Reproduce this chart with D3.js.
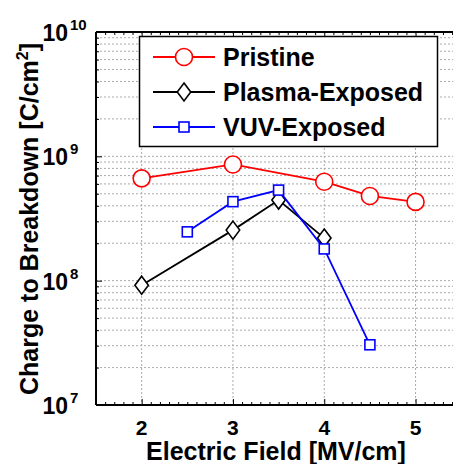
<!DOCTYPE html>
<html>
<head>
<meta charset="utf-8">
<script src="https://cdn.jsdelivr.net/npm/d3@7"></script>
<style>
  body { margin: 0; background: #fff; }
  svg { display: block; font-family: Arial, "Liberation Sans", sans-serif; font-weight: bold; }
</style>
</head>
<body>
<svg id="chart" width="453" height="464"></svg>
<script>
// Data
const pristineX = [2, 3, 4, 4.5, 5];
const pristineY = [6.65e8, 8.6e8, 6.25e8, 4.8e8, 4.3e8];
const plasmaX = [2, 3, 3.5, 4];
const plasmaY = [9.2e7, 2.55e8, 4.45e8, 2.2e8];
const vuvX = [2.5, 3, 3.5, 4, 4.5];
const vuvY = [2.47e8, 4.32e8, 5.35e8, 1.8e8, 3.05e7];
const xTicks = [2, 3, 4, 5];
const yExps = [7, 8, 9, 10];
const seriesNames = ['Pristine', 'Plasma-Exposed', 'VUV-Exposed'];

const svg = d3.select('#chart');
const margin = { left: 96, top: 32, bottom: 405 };

const x = d3.scaleLinear().domain([1.5, 5.5]).range([margin.left, margin.left + 4 * 91.3]);
const y = d3.scaleLog().domain([1e7, 1e10]).range([margin.bottom, margin.top]);

// minor values for log grid
const minorY = [];
[1e7, 1e8, 1e9].forEach(d => {
  for (let k = 2; k <= 9; k++) minorY.push(d * k);
});

// Gridlines
const grid = svg.append('g').attr('class', 'grid');
grid.selectAll('line.gy')
  .data(minorY.concat([1e8, 1e9]))
  .enter()
  .append('line')
  .attr('x1', margin.left)
  .attr('x2', 453)
  .attr('y1', d => y(d))
  .attr('y2', d => y(d))
  .attr('stroke', '#aaa')
  .attr('stroke-width', 1)
  .attr('stroke-dasharray', '2,2');
grid.selectAll('line.gx')
  .data(xTicks)
  .enter()
  .append('line')
  .attr('x1', d => x(d))
  .attr('x2', d => x(d))
  .attr('y1', margin.top)
  .attr('y2', margin.bottom)
  .attr('stroke', '#aaa')
  .attr('stroke-width', 1)
  .attr('stroke-dasharray', '2,2');

// Axes with inward ticks
const xMinor = d3.range(1.6, 5.5, 0.1).filter(d => Math.abs(d - Math.round(d)) > 0.01);
svg.append('g')
  .attr('transform', `translate(0,${margin.bottom})`)
  .call(d3.axisBottom(x).tickValues(xMinor).tickSize(-3).tickFormat(''))
  .call(g => g.select('.domain').remove());
svg.append('g')
  .attr('transform', `translate(0,${margin.bottom})`)
  .call(d3.axisBottom(x).tickValues(xTicks).tickSize(-6).tickFormat(''))
  .call(g => g.select('.domain').remove());
svg.append('g')
  .attr('transform', `translate(0,${margin.top})`)
  .call(d3.axisTop(x).tickValues(xMinor).tickSize(-3).tickFormat(''))
  .call(g => g.select('.domain').remove());
svg.append('g')
  .attr('transform', `translate(0,${margin.top})`)
  .call(d3.axisTop(x).tickValues(xTicks).tickSize(-6).tickFormat(''))
  .call(g => g.select('.domain').remove());
svg.append('g')
  .attr('transform', `translate(${margin.left},0)`)
  .call(d3.axisLeft(y).tickValues(minorY).tickSize(-3).tickFormat(''))
  .call(g => g.select('.domain').remove());
svg.append('g')
  .attr('transform', `translate(${margin.left},0)`)
  .call(d3.axisLeft(y).tickValues(yExps.map(e => Math.pow(10, e))).tickSize(-6).tickFormat(''))
  .call(g => g.select('.domain').remove());

svg.selectAll('.tick line').attr('stroke', '#000').attr('stroke-width', 1);

// Axis frame lines
svg.append('line')
  .attr('x1', margin.left).attr('x2', 453)
  .attr('y1', margin.bottom).attr('y2', margin.bottom)
  .attr('stroke', '#000').attr('stroke-width', 2);
svg.append('line')
  .attr('x1', margin.left).attr('x2', 453)
  .attr('y1', margin.top).attr('y2', margin.top)
  .attr('stroke', '#000').attr('stroke-width', 2);
svg.append('line')
  .attr('x1', margin.left).attr('x2', margin.left)
  .attr('y1', margin.top).attr('y2', margin.bottom)
  .attr('stroke', '#000').attr('stroke-width', 2);

// X tick labels
svg.selectAll('text.xl')
  .data(xTicks)
  .enter()
  .append('text')
  .attr('x', d => x(d))
  .attr('y', 435)
  .attr('text-anchor', 'middle')
  .attr('font-size', 21)
  .text(d => d);

// Y tick labels 10^n
svg.selectAll('text.yl')
  .data(yExps)
  .enter()
  .append('text')
  .attr('x', 68)
  .attr('y', d => y(Math.pow(10, d)) + 9)
  .attr('text-anchor', 'end')
  .attr('font-size', 23)
  .text('10');
svg.selectAll('text.ye')
  .data(yExps)
  .enter()
  .append('text')
  .attr('x', 70)
  .attr('y', d => y(Math.pow(10, d)) - 2)
  .attr('font-size', 15)
  .text(d => d);

// Axis titles
svg.append('text')
  .attr('x', 276)
  .attr('y', 460)
  .attr('text-anchor', 'middle')
  .attr('font-size', 25)
  .text('Electric Field [MV/cm]');

const yt = svg.append('text')
  .attr('transform', 'translate(38,219) rotate(-90)')
  .attr('text-anchor', 'middle')
  .attr('font-size', 25);
yt.append('tspan').text('Charge to Breakdown [C/cm');
yt.append('tspan').attr('dy', -10).attr('font-size', 16).text('2');
yt.append('tspan').attr('dy', 10).text(']');

// Series
const line = d3.line().x(d => x(d[0])).y(d => y(d[1]));
const series = [
  { name: seriesNames[0], xs: pristineX, ys: pristineY, color: '#ff0000', symbol: 'circle' },
  { name: seriesNames[1], xs: plasmaX, ys: plasmaY, color: '#000000', symbol: 'diamond' },
  { name: seriesNames[2], xs: vuvX, ys: vuvY, color: '#0000ff', symbol: 'square' }
];

function drawMarker(g, symbol, color, cx, cy) {
  if (symbol === 'circle') {
    g.append('circle').attr('cx', cx).attr('cy', cy).attr('r', 8.5)
      .attr('fill', '#fff').attr('stroke', color).attr('stroke-width', 1.6);
  } else if (symbol === 'diamond') {
    const r = 9;
    g.append('path')
      .attr('d', `M${cx},${cy - r}L${cx + r * 0.75},${cy}L${cx},${cy + r}L${cx - r * 0.75},${cy}Z`)
      .attr('fill', '#fff').attr('stroke', color).attr('stroke-width', 1.6);
  } else {
    g.append('rect').attr('x', cx - 5).attr('y', cy - 5).attr('width', 10).attr('height', 10)
      .attr('fill', '#fff').attr('stroke', color).attr('stroke-width', 1.6);
  }
}

series.forEach(s => {
  const pts = s.xs.map((d, i) => [d, s.ys[i]]);
  const g = svg.append('g');
  g.append('path')
    .datum(pts)
    .attr('d', line)
    .attr('fill', 'none')
    .attr('stroke', s.color)
    .attr('stroke-width', 1.8);
  pts.forEach(p => drawMarker(g, s.symbol, s.color, x(p[0]), y(p[1])));
});

// Legend
const legend = svg.append('g');
legend.append('rect')
  .attr('x', 139.5).attr('y', 36.5).attr('width', 298).attr('height', 110)
  .attr('fill', '#fff').attr('stroke', '#000').attr('stroke-width', 1.5);
series.forEach((s, i) => {
  const ly = 57 + i * 35;
  legend.append('line')
    .attr('x1', 153).attr('x2', 215)
    .attr('y1', ly).attr('y2', ly)
    .attr('stroke', s.color).attr('stroke-width', 1.8);
  drawMarker(legend, s.symbol, s.color, 184, ly);
  legend.append('text')
    .attr('x', 223)
    .attr('y', ly + 9)
    .attr('font-size', 25)
    .text(s.name);
});
</script>
</body>
</html>
